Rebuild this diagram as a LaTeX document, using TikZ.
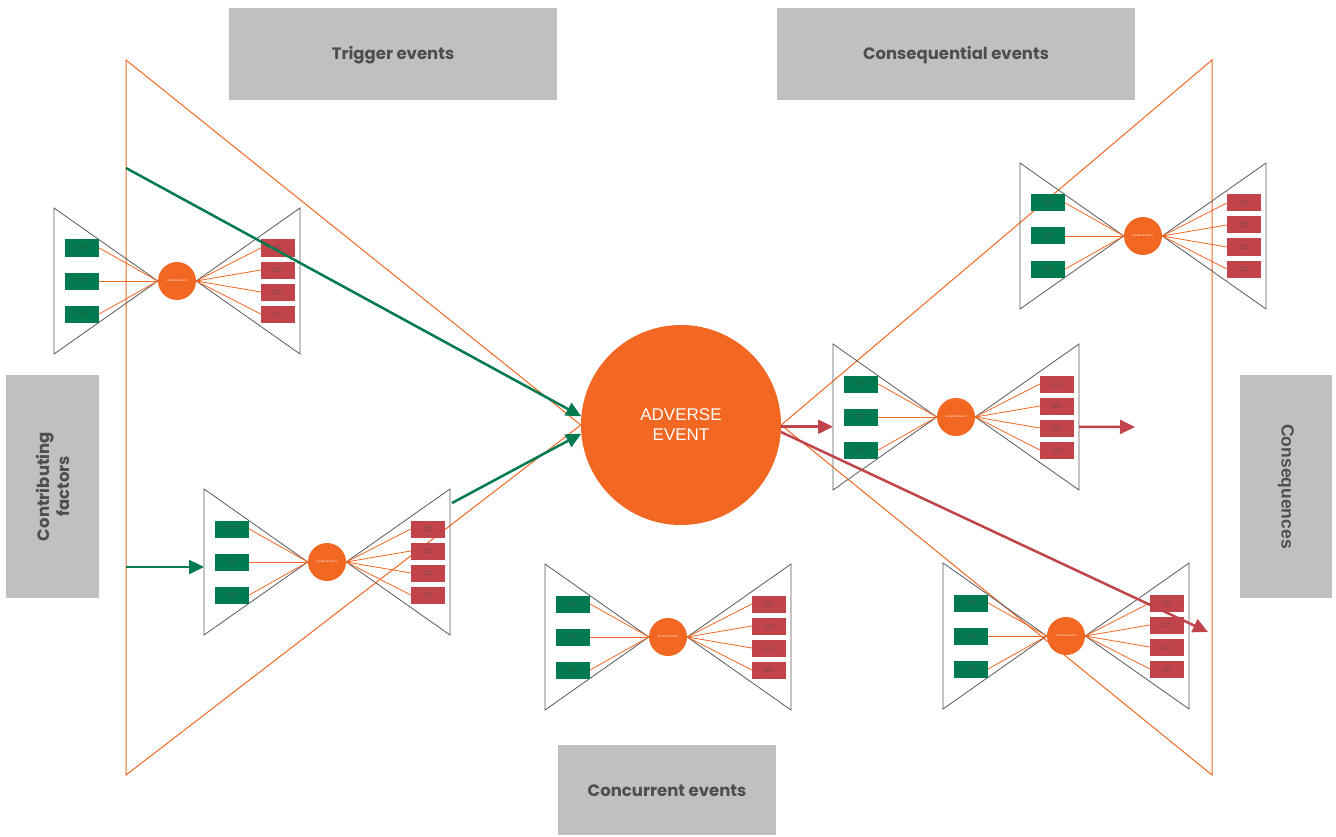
\documentclass[tikz,border=0pt]{standalone}
\usepackage{fontspec}
\setmainfont{Poppins}
\newfontfamily\arialfont{Liberation Sans}
\usetikzlibrary{arrows.meta}

\definecolor{aeorange}{HTML}{F26722}
\definecolor{cfgreen}{HTML}{007A4E}
\definecolor{csqred}{HTML}{C0444A}
\definecolor{boxgray}{HTML}{BFC0C2}
\definecolor{labelgray}{HTML}{4E4E50}
\definecolor{tiegray}{HTML}{58595B}

\tikzset{
  label box/.style={fill=boxgray, text=labelgray, inner sep=0pt, text height=1.3em, text depth=0.1em,
    font=\fontsize{16.5}{20}\selectfont\bfseries, align=center},
  small event/.style={circle, fill=aeorange, text=white, minimum size=38pt,
    inner sep=0pt, font=\arialfont\fontsize{2.4}{3}\selectfont},
  factor/.style={fill=cfgreen, text=labelgray, minimum width=34pt, minimum height=17pt,
    inner sep=0pt, align=center, font=\arialfont\fontsize{2.4}{3}\selectfont},
  outcome/.style={fill=csqred, text=labelgray, minimum width=34pt, minimum height=17pt,
    inner sep=0pt, align=center, font=\arialfont\fontsize{2.4}{3}\selectfont},
  tie/.style={draw=tiegray, line width=0.8pt},
  link/.style={draw=aeorange, line width=0.8pt},
  big tie/.style={draw=aeorange, line width=1pt},
  green arrow/.style={draw=cfgreen, line width=2.5pt, -{Triangle[length=15pt,width=14pt]}},
  red arrow/.style={draw=csqred, line width=2.5pt, -{Triangle[length=15pt,width=14pt]}}
}

\begin{document}
\begin{tikzpicture}[x=1pt, y=-1pt]
  \useasboundingbox (0,0) rectangle (1336,837);

  % category labels
  \node[label box, minimum width=328pt, minimum height=92pt] (trigger) at (393,54) {Trigger events};
  \node[label box, minimum width=358pt, minimum height=92pt] (consequential) at (956,54) {Consequential events};
  \node[label box, minimum width=218pt, minimum height=90pt] (concurrent) at (667,790) {Concurrent events};
  \node[label box, rotate=90, minimum width=223pt, minimum height=93pt, text height=, text depth=] (contributing) at (52.5,486.5) {Contributing\\factors};
  \node[label box, rotate=-90, minimum width=223pt, minimum height=92pt, text height=, text depth=,
        font=\arialfont\fontsize{17.5}{20}\selectfont\bfseries] (consequences) at (1286,486.5) {Consequences};

  % central event
  \node[circle, fill=aeorange, text=white, minimum size=200pt, inner sep=0pt, align=center,
        font=\arialfont\fontsize{17}{20}\selectfont] (ae) at (681,425) {ADVERSE\\EVENT};

  % big bow tie
  \coordinate (tl) at (126,60);
  \coordinate (bl) at (126,775);
  \coordinate (tr) at (1212,60);
  \coordinate (br) at (1212,775);
  \draw[big tie] (tl) -- (ae.west) -- (bl) -- cycle;
  \draw[big tie] (tr) -- (ae.east) -- (br) -- cycle;

  % small bow ties
  \foreach \i/\cx/\cy in {1/177/281, 2/327/562, 3/668/637, 4/956/417, 5/1143/236, 6/1066/636} {
    \node[small event] (b\i) at (\cx,\cy) {ADVERSE EVENT};
    \coordinate (lft\i) at ({\cx-123},\cy);
    \coordinate (rgt\i) at ({\cx+123},\cy);
    \draw[tie] ({\cx-123},{\cy-73}) -- (b\i.west) -- ({\cx-123},{\cy+73}) -- cycle;
    \draw[tie] ({\cx+123},{\cy-73}) -- (b\i.east) -- ({\cx+123},{\cy+73}) -- cycle;
    \foreach \k/\dy in {1/-33, 2/0, 3/33} {
      \node[factor] (b\i-f\k) at ({\cx-95},{\cy+\dy}) {Contributing\\factor};
      \draw[link] (b\i-f\k.east) -- (b\i.west);
    }
    \foreach \k/\dy in {1/-33, 2/-11, 3/11, 4/33} {
      \node[outcome] (b\i-q\k) at ({\cx+101},{\cy+\dy}) {Conse-\\quence \k};
      \draw[link] (b\i.east) -- (b\i-q\k.west);
    }
  }

  % pathways
  \coordinate (trig start) at (126,168);
  \coordinate (cf start) at (126,567);
  \coordinate (tie out) at (452,503);
  \coordinate (csq end) at (1135,427);
  \coordinate (csq low) at (1208,632);
  \draw[green arrow] (trig start) -- (ae.175);
  \draw[green arrow] (tie out) -- (ae.185);
  \draw[green arrow] (cf start) -- (cf start -| lft2);
  \draw[red arrow] (ae.-1) -- (ae.-1 -| lft4);
  \draw[red arrow] (ae.-1 -| rgt4) -- (csq end);
  \draw[red arrow] (ae.-4) -- (csq low);
\end{tikzpicture}
\end{document}
